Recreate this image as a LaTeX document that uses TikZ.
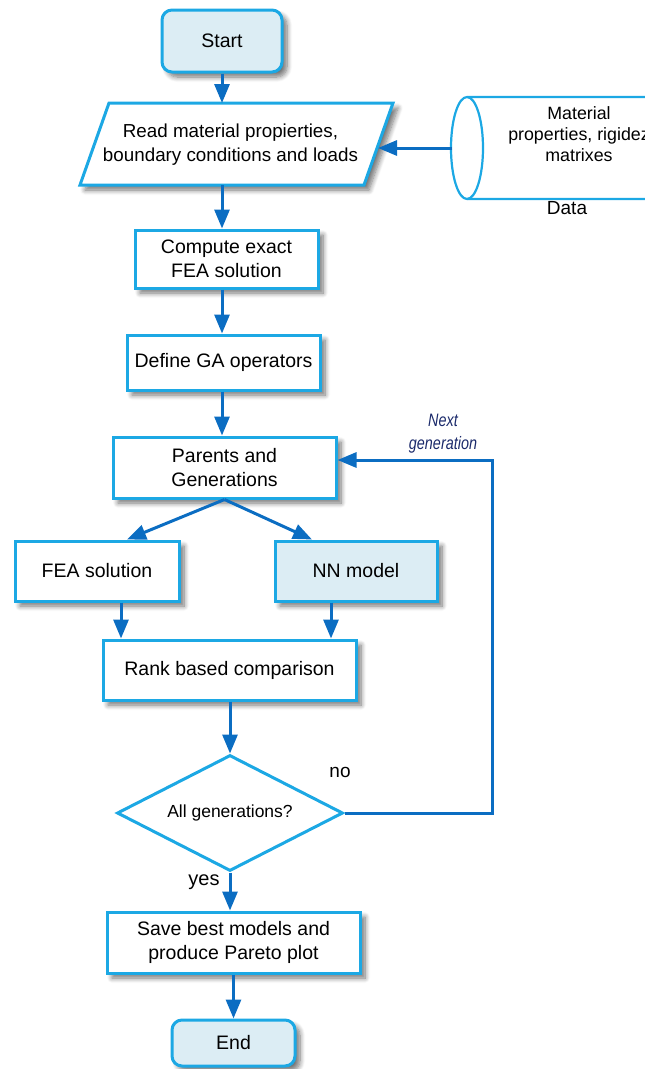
\documentclass[tikz,border=0pt]{standalone}
\usepackage{fontspec}
\setmainfont{Liberation Sans}
\usetikzlibrary{arrows.meta,shapes.geometric,shadows.blur}
\definecolor{bordercol}{HTML}{1CA8E4}
\definecolor{fillcol}{HTML}{DCEDF4}
\definecolor{arrcol}{HTML}{0B6DC2}
\definecolor{navy}{HTML}{1B2A6B}
\tikzset{
  shad/.style={blur shadow={shadow xshift=5pt,shadow yshift=-5pt,shadow blur steps=8,shadow blur radius=5pt,shadow opacity=55}},
  outline/.style={draw=bordercol,line width=3pt,fill=white,shad},
  box/.style={outline,align=center,inner sep=2pt,font=\fontsize{19.5}{24}\selectfont},
  term/.style={box,fill=fillcol,rounded corners=10pt},
  arr/.style={draw=arrcol,line width=3pt,-{Triangle[length=19pt,width=15pt]}},
  lbl/.style={font=\fontsize{19}{22}\selectfont,align=center},
}
\begin{document}
\begin{tikzpicture}[x=1pt,y=-1pt]
\useasboundingbox (0,0) rectangle (645,1069);
% nodes
\node[term,minimum width=120pt,minimum height=62pt] (start) at (222,41) {Start};
\draw[outline,line join=miter] (109,103) -- (393,103) -- (364,185) -- (80,185) -- cycle;
\node[align=center,font=\fontsize{18.8}{24}\selectfont] (read) at (230.5,145) {Read material propierties,\\boundary conditions and loads};
\coordinate (readtop) at (236.5,103);
\coordinate (readbot) at (236.5,185);
\coordinate (readright) at (378,148);
\node[box,minimum width=183pt,minimum height=58pt] (compute) at (226.5,259) {Compute exact\\FEA solution};
\node[box,minimum width=193pt,minimum height=55pt] (define) at (223.5,362.5) {Define GA operators};
\node[box,minimum width=223pt,minimum height=61pt] (parents) at (224.5,467.5) {Parents and\\Generations};
\node[box,minimum width=164pt,minimum height=60pt] (fea) at (97,571) {FEA solution};
\node[box,fill=fillcol,minimum width=162pt,minimum height=60pt] (nn) at (356,571) {NN model};
\node[box,minimum width=253pt,minimum height=60pt] (rank) at (229.5,670) {Rank based comparison};
\node[draw=bordercol,line width=3pt,fill=white,diamond,aspect=1.95,minimum width=226pt,minimum height=116pt,inner sep=0pt,font=\fontsize{17.5}{20}\selectfont] (dec) at (230,813) {All generations?};
\node[box,minimum width=253pt,minimum height=61pt] (save) at (233.5,942.5) {Save best models and\\produce Pareto plot};
\node[term,minimum width=123pt,minimum height=46pt] (end) at (233.5,1043) {End};
% data store (cylinder, cut by the right edge)
\draw[draw=bordercol,line width=2.2pt,fill=white] (467,97) -- (652,97) arc[start angle=-90,end angle=90,x radius=16pt,y radius=-51pt] -- (467,199) arc[start angle=90,end angle=270,x radius=16pt,y radius=-51pt] -- cycle;
\draw[draw=bordercol,line width=2.2pt] (467,97) arc[start angle=-90,end angle=90,x radius=16pt,y radius=-51pt];
\coordinate (datain) at (452,148);
\node[lbl,font=\fontsize{17.8}{21}\selectfont] (datatext) at (579,134) {Material\\properties, rigidez\\matrixes};
\node[lbl] (datalbl) at (567,208) {Data};
% connectors
\draw[arr] (start.south) -- (start.south |- readtop);
\draw[arr] (datain) -- (readright);
\draw[arr] (start.south |- readbot) -- (start.south |- compute.north);
\draw[arr] (start.south |- compute.south) -- (start.south |- define.north);
\draw[arr] (start.south |- define.south) -- (start.south |- parents.north);
\draw[arr] (parents.south) -- ([xshift=30pt]fea.north);
\draw[arr] (parents.south) -- ([xshift=-44pt]nn.north);
\draw[arr] ([xshift=24pt]fea.south) -- ([xshift=24pt]fea.south |- rank.north);
\draw[arr] ([xshift=-25pt]nn.south) -- ([xshift=-25pt]nn.south |- rank.north);
\draw[arr] (dec.north |- rank.south) -- (dec.north);
\draw[arr] (dec.south) -- (dec.south |- save.north);
\draw[arr] (end.north |- save.south) -- (end.north);
\coordinate (loopc) at (492,813);
\coordinate (loopin) at ([yshift=7.5pt]parents.east);
\draw[arr] (dec.east) -- (loopc) -- (loopc |- loopin) -- (loopin);
% labels
\node[lbl,text=navy,font=\fontsize{18}{23}\selectfont\itshape] (nextgen) at (443,434) {\scalebox{0.8}[1]{Next}\\\scalebox{0.8}[1]{generation}};
\node[lbl] (nolbl) at (340,772) {no};
\node[lbl,font=\fontsize{20}{22}\selectfont] (yeslbl) at (204,882) {yes};
\end{tikzpicture}
\end{document}
